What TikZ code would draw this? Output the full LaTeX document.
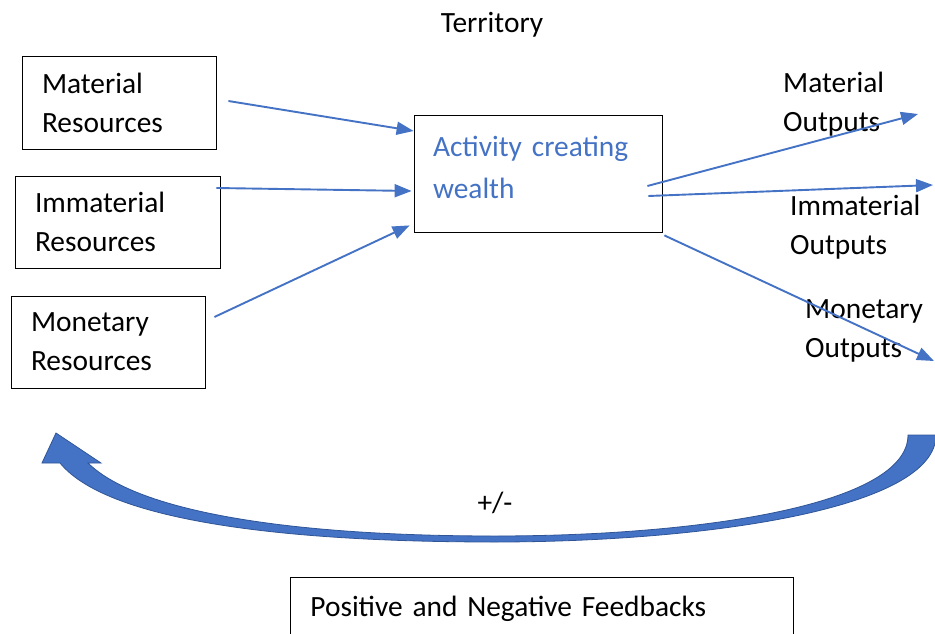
\documentclass[tikz,border=0pt]{standalone}
\usepackage{fontspec}
\setmainfont{Carlito}
\usepackage{tikz}
\usetikzlibrary{arrows.meta}

\definecolor{flowblue}{RGB}{68,114,196}
\definecolor{loopedge}{RGB}{47,85,151}

\tikzset{
    box/.style={draw, thick, rectangle, align=left, inner xsep=20pt, inner ysep=0pt},
    flow/.style={flowblue, line width=1.9pt, -{Triangle[length=17pt,width=13pt]}},
    lbl/.style={align=left, inner sep=0pt}
}

\begin{document}
\begin{tikzpicture}[x=1pt, y=-1pt, font=\fontsize{29.4}{39}\selectfont]
        \useasboundingbox (0, 0) rectangle (935, 634);

        \draw (119, 102.5) node[box, text width=154pt, minimum height=93pt] (matres) {Material\\Resources};
        \draw (117.5, 222) node[box, text width=165pt, minimum height=92pt] (immres) {Immaterial\\Resources};
        \draw (108, 342) node[box, text width=154pt, minimum height=92pt] (monres) {Monetary\\Resources};
        \draw (538, 173.5) node[box, inner xsep=19pt, text width=210pt, minimum height=117pt, text=flowblue] (act) {Activity creating\\[3pt]wealth\rule[-12pt]{0pt}{0pt}};

        \draw (492, 25) node[lbl] (terr) {Territory};
        \draw (783, 104) node[lbl, anchor=west] (matout) {Material\\Outputs};
        \draw (790, 227) node[lbl, anchor=west] (immout) {Immaterial\\Outputs};
        \draw (805, 330.5) node[lbl, anchor=west] (monout) {Monetary\\Outputs};
        \draw (495, 503) node[lbl] (sign) {+/-};
        \draw (290, 577) node[box, anchor=north west, text width=463pt, minimum height=62pt] (fback) {Positive and Negative Feedbacks};

        \coordinate (matend) at (918, 114);
        \coordinate (immend) at (933, 185);
        \coordinate (monend) at (934, 361);

        % inputs
        \draw[flow] ([xshift=12pt, yshift=1.5pt]matres.east) -- ([yshift=42.5pt]act.west);
        \draw[flow] ([xshift=-4pt, yshift=34pt]immres.east) -- ([xshift=-2pt, yshift=-17.5pt]act.west);
        \draw[flow] ([xshift=9pt, yshift=25pt]monres.east) -- ([xshift=-4pt, yshift=7pt]act.south west);

        % outputs
        \draw[flow] ([xshift=-15pt, yshift=-12.5pt]act.east) -- (matend);
        \draw[flow] ([xshift=-14pt, yshift=-22.5pt]act.east) -- (immend);
        \draw[flow] ([xshift=2pt, yshift=-3pt]act.south east) -- (monend);

        % feedback loop
        \draw[fill=flowblue, draw=loopedge, line width=0.8pt]
            (936, 435) .. controls (936, 510) and (700, 542) .. (495, 542)
            .. controls (300, 542) and (110, 524) .. (60, 463)
            -- (42, 463) -- (56, 433) -- (101, 463) -- (88, 463)
            .. controls (140, 514) and (300, 536) .. (495, 536)
            .. controls (700, 536) and (908, 505) .. (908, 435) -- cycle;
    \end{tikzpicture}
\end{document}
